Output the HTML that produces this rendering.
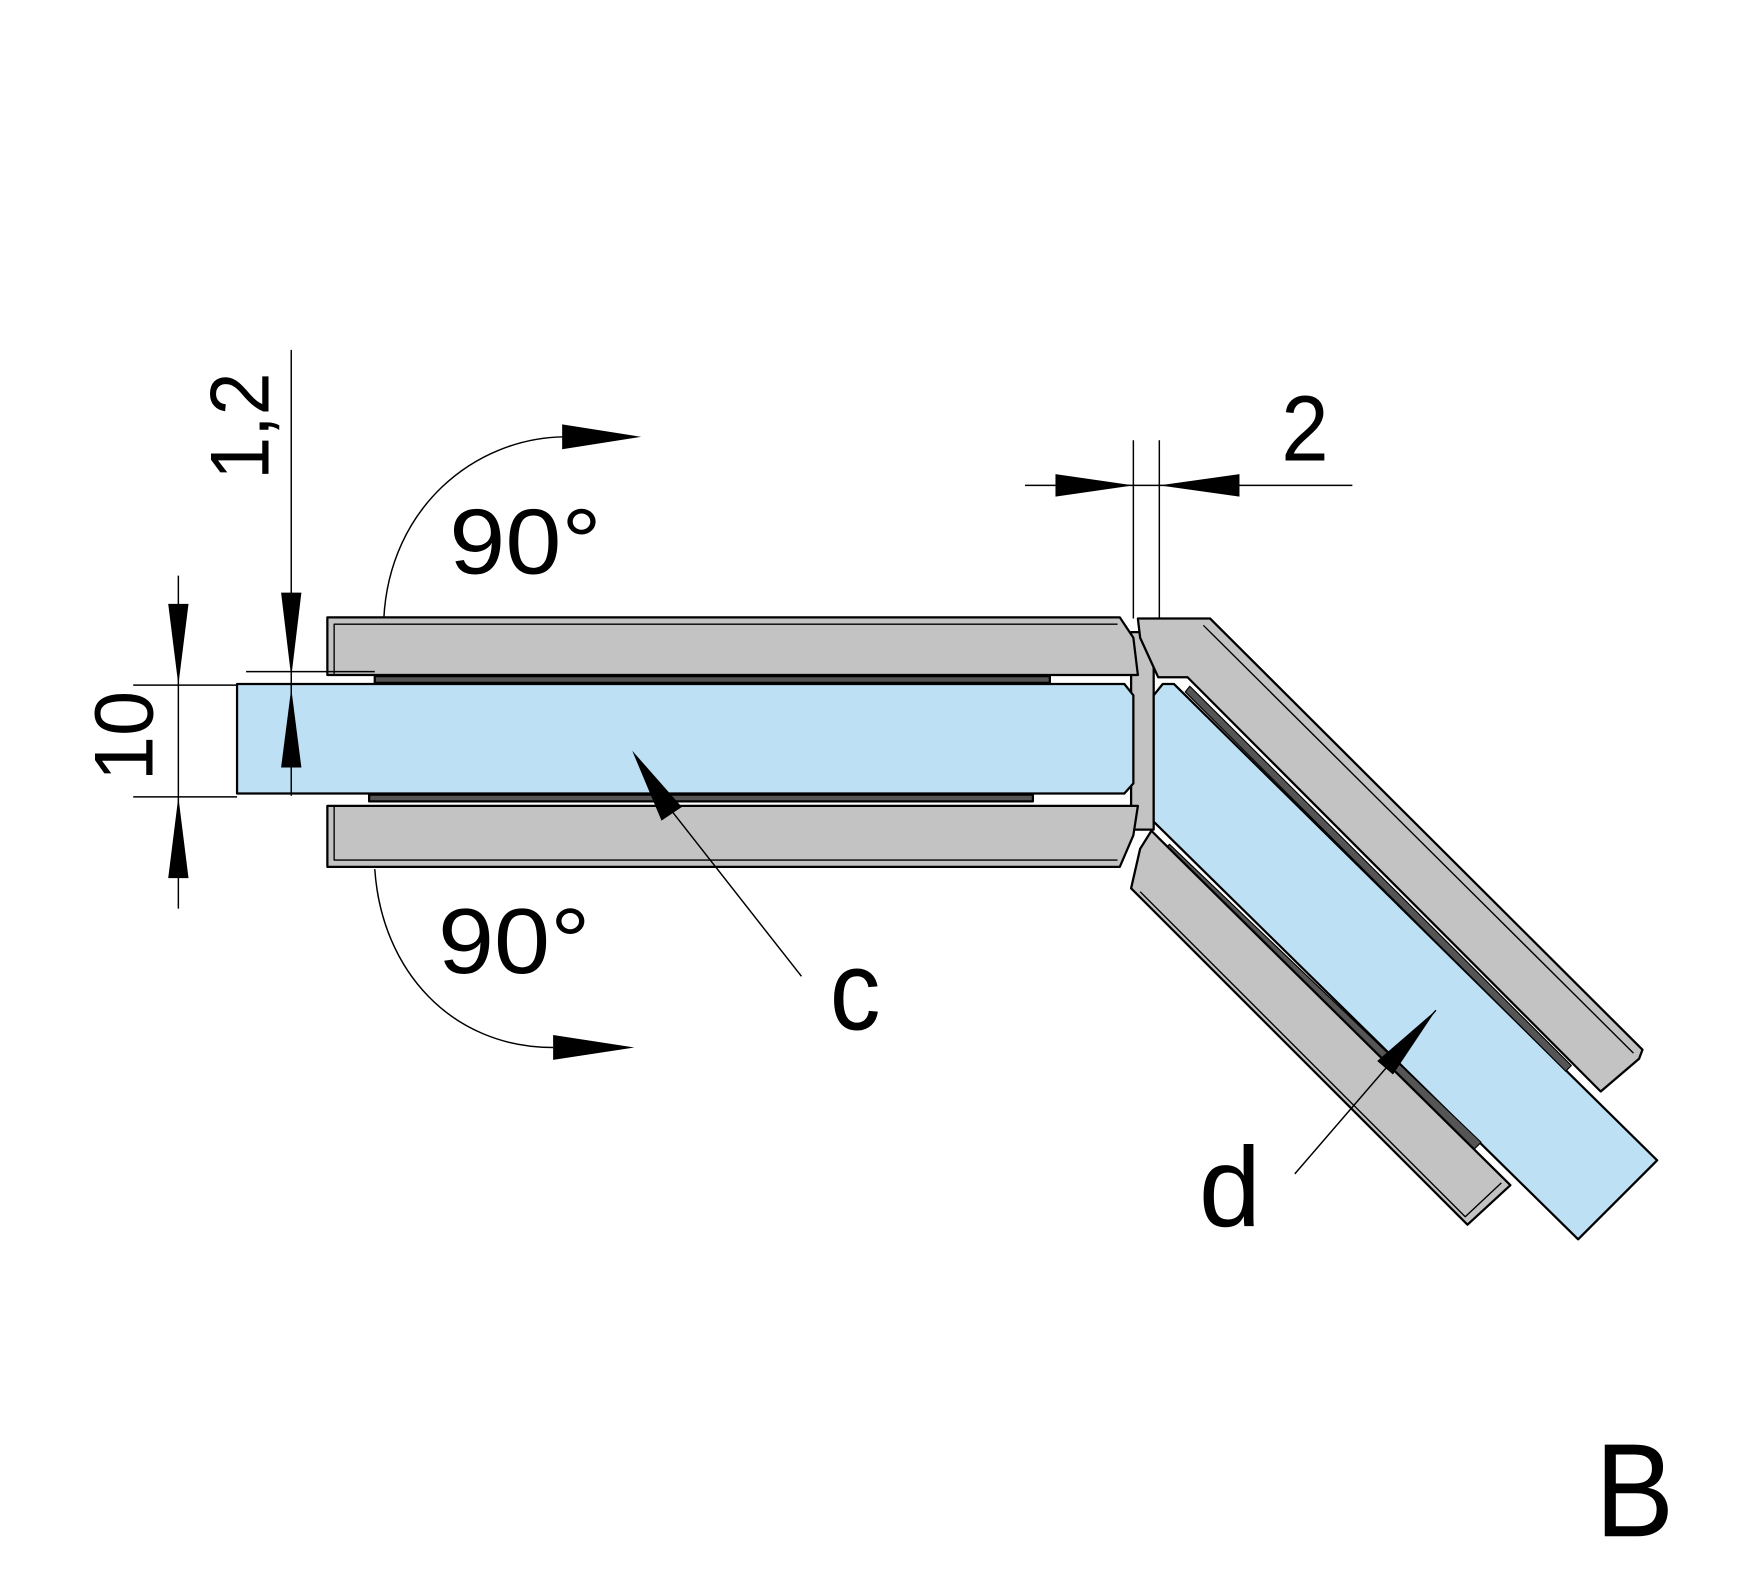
<!DOCTYPE html>
<html><head><meta charset="utf-8"><style>html,body{margin:0;padding:0;background:#fff}svg{display:block}</style></head>
<body>
<svg width="1761" height="1587" viewBox="0 0 1560 1406" preserveAspectRatio="none" xmlns="http://www.w3.org/2000/svg">
<g stroke="#000" stroke-width="2" stroke-linejoin="round">
<polygon points="1002,560 1022,560 1022,735 1002,735" fill="#c3c3c3"/>
<polygon points="210,606 996,606 1004,616 1004,694 996,703 210,703" fill="#bde0f5"/>
<rect x="332" y="599" width="598" height="6" fill="#555"/>
<rect x="327" y="704" width="588" height="6" fill="#555"/>
<polygon points="290,547 992,547 1004,565 1008,598 290,598" fill="#c3c3c3"/>
<polyline points="296,598 296,553 990,553" fill="none" stroke-width="1.2"/>
<polygon points="290,714 1008,714 1004,740 992,768 290,768" fill="#c3c3c3"/>
<polyline points="296,714 296,762 990,762" fill="none" stroke-width="1.2"/>
<!-- angled glass -->
<polygon points="1022,616 1030,606 1040,606 1468,1028 1398,1098 1022,728" fill="#bde0f5"/>
<!-- upper angled bar -->
<polygon points="1008,548 1072,548 1455,930 1452,938 1418,967 1052,600 1026,600 1010,565" fill="#c3c3c3"/>
<polyline points="1066,554 1447,933" fill="none" stroke-width="1.2"/>
<!-- angled gaskets -->
<polygon points="1054,608 1392,944 1387,949 1050,613" fill="#555" stroke-width="1"/>
<polygon points="1036,748 1312,1012 1306,1018 1030,754" fill="#555" stroke-width="1"/>
<!-- lower angled bar -->
<polygon points="1020,736 1028,744 1338,1050 1300,1085 1002,787 1010,752" fill="#c3c3c3"/>
<polyline points="1010,790 1298,1078 1330,1048" fill="none" stroke-width="1.2"/>
</g>
<g stroke="#000" stroke-width="1.3" fill="none">
<line x1="258" y1="310" x2="258" y2="705"/>
<line x1="218" y1="595" x2="332" y2="595"/>
<line x1="158" y1="510" x2="158" y2="805"/>
<line x1="118" y1="607" x2="210" y2="607"/>
<line x1="118" y1="706" x2="210" y2="706"/>
<path d="M340,548 C345,450 420,388 500,387"/>
<path d="M332,770 C338,860 400,928 490,928"/>
<line x1="710" y1="865" x2="590" y2="712"/>
<line x1="1147" y1="1040" x2="1272" y2="895"/>
<line x1="1004" y1="390" x2="1004" y2="548"/>
<line x1="1027" y1="390" x2="1027" y2="548"/>
<line x1="908" y1="430" x2="1198" y2="430"/>
</g>
<g fill="#000">
<polygon points="258,600 249,525 267,525"/>
<polygon points="258,610 249,680 267,680"/>
<polygon points="158,607 149,535 167,535"/>
<polygon points="158,706 149,778 167,778"/>
<polygon points="568,387 498,376 498,398"/>
<polygon points="562,928 490,917 490,939"/>
<polygon points="560,665 604,715 586,727"/>
<polygon points="1272,895 1234,952 1220,940"/>
<polygon points="1004,430 935,420 935,440"/>
<polygon points="1027,430 1098,420 1098,440"/>
</g>
<g font-family="Liberation Sans, sans-serif" fill="#000">
<text x="0" y="0" font-size="74" transform="translate(238,425) rotate(-90)" textLength="95" lengthAdjust="spacingAndGlyphs">1,2</text>
<text x="0" y="0" font-size="74" transform="translate(135,692) rotate(-90)" textLength="80" lengthAdjust="spacingAndGlyphs">10</text>
<text x="398" y="508" font-size="82" textLength="135" lengthAdjust="spacingAndGlyphs">90°</text>
<text x="388" y="862" font-size="82" textLength="135" lengthAdjust="spacingAndGlyphs">90°</text>
<text x="735" y="912" font-size="100" textLength="45" lengthAdjust="spacingAndGlyphs">c</text>
<text x="1062" y="1086" font-size="100" textLength="55" lengthAdjust="spacingAndGlyphs">d</text>
<text x="1135" y="408" font-size="82" textLength="42" lengthAdjust="spacingAndGlyphs">2</text>
<text x="1413" y="1361" font-size="118" textLength="70" lengthAdjust="spacingAndGlyphs">B</text>
</g>
</svg>
</body></html>
